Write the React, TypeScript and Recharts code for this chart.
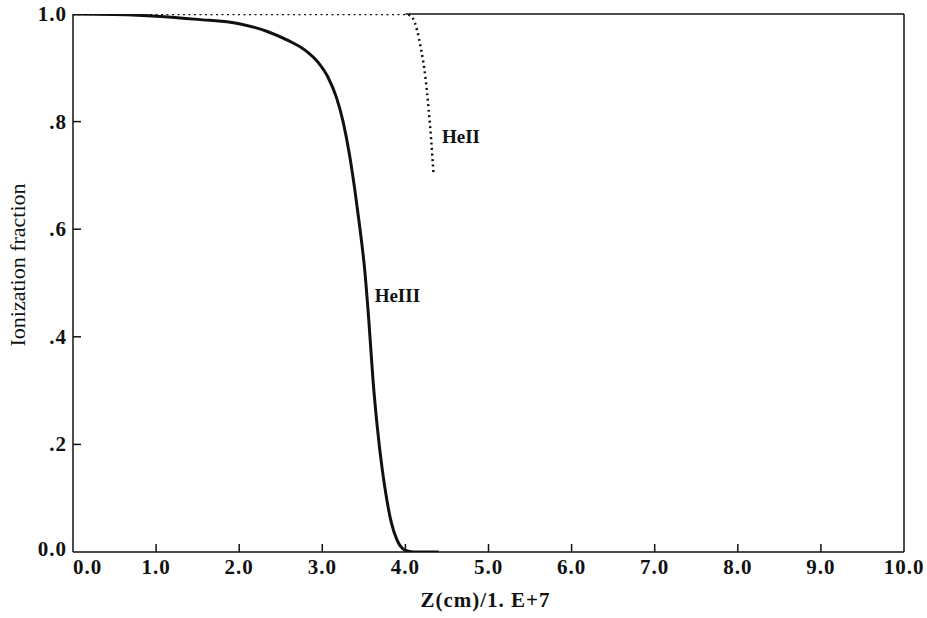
import { Label, Line, LineChart, ReferenceDot, ReferenceLine, XAxis, YAxis } from "recharts";

// HeIII fraction (solid curve)
const heIIIZ = [0, 0.5, 1.0, 1.5, 2.0, 2.33, 2.6, 2.8, 2.95, 3.07, 3.17, 3.25, 3.32, 3.39, 3.45, 3.51, 3.56, 3.61, 3.66, 3.72, 3.77, 3.83, 3.9, 3.99, 4.1, 4.4];
const heIIIFrac = [1.0, 0.999, 0.996, 0.99, 0.982, 0.968, 0.95, 0.932, 0.91, 0.882, 0.845, 0.8, 0.745, 0.675, 0.605, 0.525, 0.43, 0.32, 0.235, 0.155, 0.103, 0.055, 0.022, 0.004, 0, 0];

// HeII fraction (dotted curve)
const heIIZ = [0, 1, 2, 3, 3.9, 4.0, 4.05, 4.09, 4.14, 4.19, 4.24, 4.28, 4.31, 4.34];
const heIIFrac = [1, 1, 1, 1, 1, 1, 0.998, 0.992, 0.97, 0.933, 0.884, 0.822, 0.766, 0.7];

const xTicks = [0, 1, 2, 3, 4, 5, 6, 7, 8, 9, 10];
const yTicks = [0, 0.2, 0.4, 0.6, 0.8, 1.0];
const yTickLabels = ["0.0", ".2", ".4", ".6", ".8", "1.0"];

const heIII = heIIIZ.map((z, i) => ({ z, f: heIIIFrac[i] }));
const heII = heIIZ.map((z, i) => ({ z, f: heIIFrac[i] }));

const ink = "#111";
const font = "'Liberation Serif', 'DejaVu Serif', serif";

function XTick({ x, y, payload }: any) {
  const v = payload.value;
  const inner = v > 0 && v < 10;
  return (
    <g>
      {inner && <line x1={x} x2={x} y1={y} y2={y - 8} stroke={ink} strokeWidth={1.5} />}
      <text
        x={v === 0 ? x : x}
        y={y + 22}
        textAnchor={v === 0 ? "start" : "middle"}
        fontFamily={font}
        fontWeight="bold"
        fontSize={21}
        letterSpacing={1}
        fill={ink}
      >
        {v.toFixed(1)}
      </text>
    </g>
  );
}

function YTick({ x, y, payload }: any) {
  const v = payload.value;
  const idx = yTicks.indexOf(v);
  const inner = v > 0 && v < 1;
  return (
    <g>
      {inner && <line x1={x} x2={x + 8} y1={y} y2={y} stroke={ink} strokeWidth={1.5} />}
      <text x={x - 6} y={y + (v === 0 ? 4 : 7)} textAnchor="end" fontFamily={font} fontWeight="bold" fontSize={21} letterSpacing={1} fill={ink}>
        {yTickLabels[idx]}
      </text>
    </g>
  );
}

export default function App() {
  return (
    <div style={{ position: "absolute", left: 0, top: 0, background: "#fff" }}>
      <LineChart width={927} height={618} margin={{ top: 14, right: 23, bottom: 16, left: 13 }}>
        <XAxis
          type="number"
          dataKey="z"
          domain={[0, 10]}
          ticks={xTicks}
          tickSize={0}
          tickMargin={0}
          tick={<XTick />}
          axisLine={{ stroke: ink, strokeWidth: 1.5 }}
          tickLine={false}
          height={50}
          allowDataOverflow
        >
          <Label
            value="Z(cm)/1. E+7"
            position="insideBottom"
            offset={-5}
            dx={-3}
            style={{ fontFamily: font, fontWeight: "bold", fontSize: 21, fill: ink, letterSpacing: 1 }}
          />
        </XAxis>
        <YAxis
          type="number"
          dataKey="f"
          domain={[0, 1]}
          ticks={yTicks}
          tickSize={0}
          tickMargin={0}
          tick={<YTick />}
          axisLine={{ stroke: ink, strokeWidth: 1.5 }}
          tickLine={false}
          width={60}
          allowDataOverflow
        >
          <Label
            value="Ionization fraction"
            angle={-90}
            position="insideLeft"
            offset={4}
            dy={-18}
            style={{ fontFamily: font, fontSize: 22, fill: ink, textAnchor: "middle" }}
          />
        </YAxis>
        <ReferenceLine segment={[{ x: 4, y: 1 }, { x: 10, y: 1 }]} stroke={ink} strokeWidth={1.5} />
        <ReferenceLine x={10} stroke={ink} strokeWidth={1.5} />
        <Line
          data={heII}
          dataKey="f"
          type="monotone"
          stroke={ink}
          strokeWidth={2.5}
          strokeDasharray="2 3.5"
          dot={false}
          isAnimationActive={false}
        />
        <Line
          data={heIII}
          dataKey="f"
          type="monotone"
          stroke={ink}
          strokeWidth={3}
          dot={false}
          isAnimationActive={false}
        />
        <ReferenceDot x={4.44} y={0.773} r={0} ifOverflow="visible">
          <Label value="HeII" position="right" offset={0} style={{ fontFamily: font, fontWeight: "bold", fontSize: 19, fill: ink }} />
        </ReferenceDot>
        <ReferenceDot x={3.63} y={0.478} r={0} ifOverflow="visible">
          <Label value="HeIII" position="right" offset={0} style={{ fontFamily: font, fontWeight: "bold", fontSize: 19, fill: ink }} />
        </ReferenceDot>
      </LineChart>
    </div>
  );
}
